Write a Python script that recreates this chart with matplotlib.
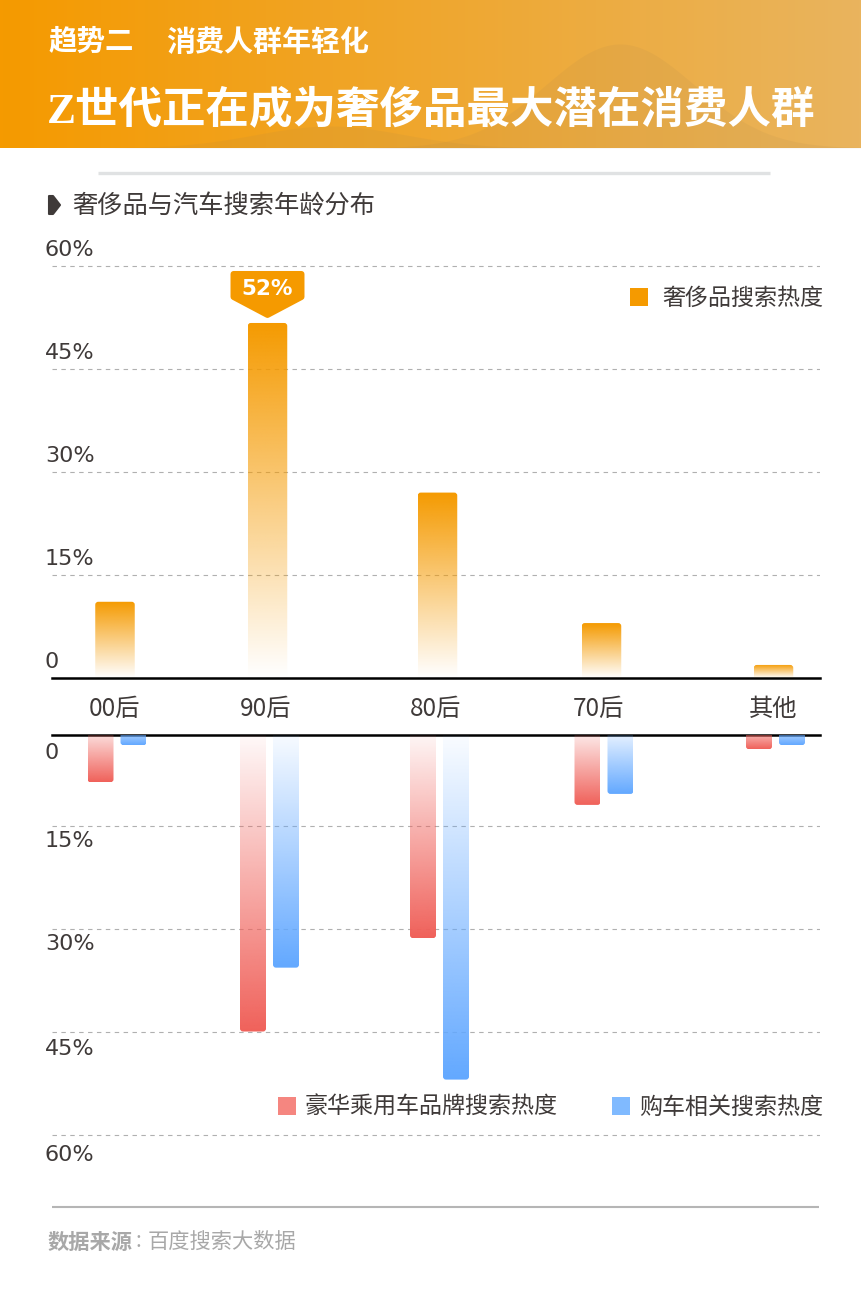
import numpy as np
import matplotlib
matplotlib.use("Agg")
import matplotlib.pyplot as plt
from matplotlib.patches import FancyBboxPatch, Polygon, Rectangle
from matplotlib.colors import to_rgb

plt.rcParams["font.family"] = ["Noto Sans CJK SC", "DejaVu Sans"]

# --------------------------------------------------
# Data
# --------------------------------------------------

categories = ["00后", "90后", "80后", "70后", "其他"]
luxury = [11.1, 51.7, 27, 8, 1.9]
premium_car = [8.7, 45, 31.4, 12, 3.9]
car_related = [3.3, 35.7, 52, 10.4, 3.3]
y_ticks = [0, 15, 30, 45, 60]
y_tick_labels = ["0", "15%", "30%", "45%", "60%"]

# --------------------------------------------------
# Layout, all in pixels of the 862x1293 picture
# --------------------------------------------------

W, H = 862, 1293
PX_PER_UNIT = 6.867
upper_x = [115, 267.5, 437.5, 601.5, 773.5]
lower_x = [117, 269.5, 439.5, 604, 775.5]
label_x = [115, 266, 436, 598, 773]
lower_label_offset = [0, 15.5, 15.5, 17.5, 20]

ORANGE = "#F59A00"
RED = "#F0615A"
BLUE = "#62A8FF"
DARK = "#3F3A39"
GRID = "#B0B0B0"


def make_axes(fig, left, right, top, bottom):
    ax = fig.add_axes([left / W, 1 - bottom / H, (right - left) / W, (bottom - top) / H])
    ax.patch.set_visible(False)
    ax.set_xlim(left, right)
    ax.set_xticks([])
    ax.set_yticks(y_ticks)
    ax.tick_params(left=False, labelleft=False)
    ax.grid(axis="y", color=GRID, linestyle=(0, (4, 4)), linewidth=0.8)
    ax.set_axisbelow(True)
    for side in ax.spines:
        ax.spines[side].set_visible(False)
    return ax


def gradient_bar(ax, x, width, value, color):
    # bar fades towards zero, image clipped by a rounded patch
    patch = FancyBboxPatch(
        (x - width / 2, -6),
        width,
        value + 6,
        boxstyle="round,pad=0,rounding_size=3",
        mutation_aspect=1 / PX_PER_UNIT,
        facecolor="none",
        edgecolor="none",
    )
    ax.add_patch(patch)
    rgba = np.ones((256, 2, 4))
    rgba[:, :, :3] = to_rgb(color)
    rgba[:, :, 3] = np.linspace(0, 1, 256)[:, None]
    im = ax.imshow(
        rgba,
        extent=(x - width / 2, x + width / 2, 0, value),
        origin="lower",
        aspect="auto",
        zorder=3,
        interpolation="bilinear",
    )
    im.set_clip_path(patch)


fig = plt.figure(figsize=(W / 100, H / 100), dpi=100, facecolor="white")

# --------------------------------------------------
# Upper chart
# --------------------------------------------------

upper = make_axes(fig, 52, 820, 258, 678)
for x, v in zip(upper_x, luxury):
    gradient_bar(upper, x, 39.5, v, ORANGE)
upper.set_xlim(52, 820)
upper.set_ylim(0, (678 - 258) / PX_PER_UNIT)
upper.spines["bottom"].set_visible(True)
upper.spines["bottom"].set_linewidth(1.8)
upper.spines["bottom"].set_color("black")

# --------------------------------------------------
# Lower chart, zero sits behind the category band
# --------------------------------------------------

lower = make_axes(fig, 52, 820, 735, 1140)
for x, red, blue in zip(lower_x, premium_car, car_related):
    gradient_bar(lower, x - 16.5, 26, red, RED)
    gradient_bar(lower, x + 16.5, 26, blue, BLUE)
lower.set_xlim(52, 820)
lower.set_ylim((1140 - 722.5) / PX_PER_UNIT, (735 - 722.5) / PX_PER_UNIT)
lower.spines["top"].set_visible(True)
lower.spines["top"].set_linewidth(1.8)
lower.spines["top"].set_color("black")

# --------------------------------------------------
# Page layer: header, titles, labels, legends
# --------------------------------------------------

page = fig.add_axes([0, 0, 1, 1], zorder=5)
page.patch.set_visible(False)
page.axis("off")

header = np.ones((2, 256, 3))
left_col = np.array(to_rgb("#F59A00"))
right_col = np.array(to_rgb("#E9B45E"))
for i, t in enumerate(np.linspace(0, 1, 256)):
    header[:, i] = left_col + (right_col - left_col) * t
page.imshow(header, extent=(0, W, 148, 0), aspect="auto", zorder=1)

hx = np.linspace(0, W, 400)
page.fill_between(hx, 148, 148 - 104 * np.exp(-((hx - 620) / 105) ** 2), color="#A08050", alpha=0.1, lw=0, zorder=2)
page.fill_between(hx, 148, 148 - 22 * np.exp(-((hx - 330) / 105) ** 2), color="#A08050", alpha=0.1, lw=0, zorder=2)

page.set_xlim(0, W)
page.set_ylim(H, 0)

page.text(48, 42, "趋势二", color="white", fontsize=20.5, fontweight="bold", va="center", zorder=4)
page.text(166, 42, "消费人群年轻化", color="white", fontsize=20.9, fontweight="bold", va="center", zorder=4)
page.text(47, 110, "Z世代正在成为奢侈品最大潜在消费人群", color="white", fontsize=31.3, fontweight="bold",
          family=["Liberation Serif", "Noto Sans CJK SC"], va="center", zorder=4)

page.plot([98, 770], [173, 173], color="#E0E2E3", lw=2.4, solid_capstyle="butt")
page.add_patch(Polygon([(49, 196), (53, 196), (60, 205), (53, 214), (49, 214)], closed=True,
                       facecolor=DARK, edgecolor=DARK, lw=1.5, joinstyle="round"))
page.text(72, 207, "奢侈品与汽车搜索年龄分布", color=DARK, fontsize=18.2, va="center")

for value, label, offset in zip(y_ticks, y_tick_labels, lower_label_offset):
    y_up = page.transData.inverted().transform(upper.transData.transform((0, value)))[1]
    page.text(45, y_up - 16, label, color=DARK, fontsize=16, family="DejaVu Sans", va="center")
    if value == 0:
        page.text(45, 753, label, color=DARK, fontsize=16, family="DejaVu Sans", va="center")
    else:
        y_low = page.transData.inverted().transform(lower.transData.transform((0, value)))[1]
        page.text(45, y_low + offset, label, color=DARK, fontsize=16, family="DejaVu Sans", va="center")

for x, label in zip(label_x, categories):
    page.text(x, 709, label, color=DARK, fontsize=17.5, ha="center", va="center")

# callout over the tallest bar
peak = int(np.argmax(luxury))
cx, cy = page.transData.inverted().transform(upper.transData.transform((upper_x[peak], luxury[peak])))
page.add_patch(Polygon(
    [(cx - 34, cy - 49), (cx + 34, cy - 49), (cx + 34, cy - 26), (cx, cy - 8), (cx - 34, cy - 26)],
    closed=True, facecolor=ORANGE, edgecolor=ORANGE, lw=4.3, joinstyle="round",
))
page.text(cx, cy - 34, f"{round(luxury[peak])}%", color="white", fontsize=15.5, fontweight="bold",
          family="DejaVu Sans", ha="center", va="center")

# legends
page.add_patch(Rectangle((630, 288), 18, 18, facecolor=ORANGE, edgecolor="none"))
page.text(662, 298, "奢侈品搜索热度", color=DARK, fontsize=16.6, va="center")
page.add_patch(Rectangle((278, 1097), 18, 18, facecolor="#F58680", edgecolor="none"))
page.text(305, 1107, "豪华乘用车品牌搜索热度", color=DARK, fontsize=16.6, va="center")
page.add_patch(Rectangle((612, 1097), 18, 18, facecolor="#80BAFF", edgecolor="none"))
page.text(639, 1107, "购车相关搜索热度", color=DARK, fontsize=16.6, va="center")

# source line
page.plot([52, 819], [1207, 1207], color="#B5B5B5", lw=1.5, solid_capstyle="butt")
page.text(48, 1242, "数据来源", color="#A8A8A8", fontsize=15.3, fontweight="bold", va="center")
page.text(136, 1241, ":", color="#A8A8A8", fontsize=15, va="center")
page.text(148, 1242, "百度搜索大数据", color="#A8A8A8", fontsize=15.3, va="center")

fig.savefig("out.png", dpi=100)
plt.close(fig)
